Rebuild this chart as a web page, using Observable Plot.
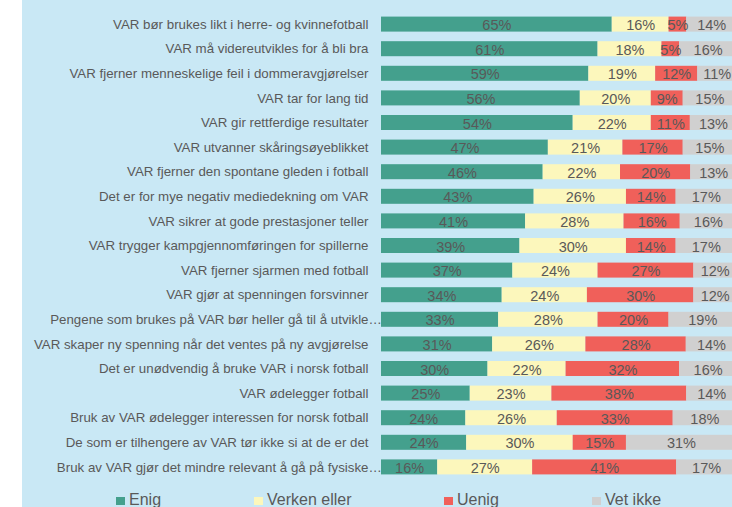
<!DOCTYPE html>
<html>
<head>
<meta charset="utf-8">
<script src="https://cdn.jsdelivr.net/npm/d3@7"></script>
<script src="https://cdn.jsdelivr.net/npm/@observablehq/plot@0.6"></script>
<style>
  body { margin: 0; background: #ffffff; font-family: "Liberation Sans", Arial, sans-serif; }
  #wrap { position: absolute; left: 22px; top: 0; width: 710px; height: 507px; background: #C9E8F5; overflow: hidden; }
  #chart { position: absolute; left: 0; top: 0; width: 714px; }
  #chart svg { max-width: none !important; display: block; }
  .leg { position: absolute; top: 492px; height: 16px; line-height: 16px; font-size: 16px; color: #595959; white-space: nowrap; }
  .leg i { position: absolute; left: 0; top: 5px; width: 9px; height: 8px; }
  .leg span { position: absolute; left: 13px; top: 0; }
</style>
</head>
<body>
<div id="wrap"><div id="chart"></div><div id="legend"></div></div>
<script>
const categories = [
  "VAR bør brukes likt i herre- og kvinnefotball",
  "VAR må videreutvikles for å bli bra",
  "VAR fjerner menneskelige feil i dommeravgjørelser",
  "VAR tar for lang tid",
  "VAR gir rettferdige resultater",
  "VAR utvanner skåringsøyeblikket",
  "VAR fjerner den spontane gleden i fotball",
  "Det er for mye negativ mediedekning om VAR",
  "VAR sikrer at gode prestasjoner teller",
  "VAR trygger kampgjennomføringen for spillerne",
  "VAR fjerner sjarmen med fotball",
  "VAR gjør at spenningen forsvinner",
  "Pengene som brukes på VAR bør heller gå til å utvikle…",
  "VAR skaper ny spenning når det ventes på ny avgjørelse",
  "Det er unødvendig å bruke VAR i norsk fotball",
  "VAR ødelegger fotball",
  "Bruk av VAR ødelegger interessen for norsk fotball",
  "De som er tilhengere av VAR tør ikke si at de er det",
  "Bruk av VAR gjør det mindre relevant å gå på fysiske…"
];
const seriesNames = ["Enig", "Verken eller", "Uenig", "Vet ikke"];
const enig       = [65, 61, 59, 56, 54, 47, 46, 43, 41, 39, 37, 34, 33, 31, 30, 25, 24, 24, 16];
const verken     = [16, 18, 19, 20, 22, 21, 22, 26, 28, 30, 24, 24, 28, 26, 22, 23, 26, 30, 27];
const uenig      = [ 5,  5, 12,  9, 11, 17, 20, 14, 16, 14, 27, 30, 20, 28, 32, 38, 33, 15, 41];
const vetIkke    = [14, 16, 11, 15, 13, 15, 13, 17, 16, 17, 12, 12, 19, 14, 16, 14, 18, 31, 17];
const seriesColors = ["#44A08D", "#FCF7BC", "#F0605A", "#D0D0D0"];

const seriesValues = [enig, verken, uenig, vetIkke];
const data = [];
categories.forEach((c, i) => {
  seriesNames.forEach((s, j) => {
    data.push({cat: c, series: s, value: seriesValues[j][i]});
  });
});
const truncated = categories.filter(c => c.endsWith("…"));

const textColor = "#595959";
const font = "'Liberation Sans', Arial, sans-serif";

const chart = Plot.plot({
  width: 714,
  height: 484,
  marginLeft: 359,
  marginRight: 0,
  marginTop: 7,
  marginBottom: 0,
  style: {background: "transparent", fontFamily: font, color: textColor},
  x: {domain: [0, 1], axis: null},
  y: {domain: categories, padding: 0.39, round: false, label: null},
  color: {domain: seriesNames, range: seriesColors},
  marks: [
    Plot.axisY({
      tickSize: 0,
      tickPadding: 13,
      fontSize: 13.3,
      fill: textColor,
      tickFormat: d => d.replace("…", "")
    }),
    Plot.text(truncated, {
      x: () => 0, y: d => d, text: () => "…",
      textAnchor: "start", dx: -13, fontSize: 13.3, fill: textColor
    }),
    Plot.barX(data, Plot.stackX({
      x: "value", y: "cat", fill: "series", order: seriesNames, offset: "normalize"
    })),
    Plot.text(data, Plot.stackX({
      x: "value", y: "cat", z: "series", order: seriesNames, offset: "normalize",
      text: d => d.value + "%",
      fontSize: 14.5, fill: textColor, dy: 1
    }))
  ]
});
document.getElementById("chart").appendChild(chart);

const legendX = [94, 232, 422, 570];
const legend = document.getElementById("legend");
seriesNames.forEach((s, j) => {
  const item = document.createElement("div");
  item.className = "leg";
  item.style.left = legendX[j] + "px";
  item.innerHTML = `<i style="background:${seriesColors[j]}"></i><span>${s}</span>`;
  legend.appendChild(item);
});
</script>
</body>
</html>
